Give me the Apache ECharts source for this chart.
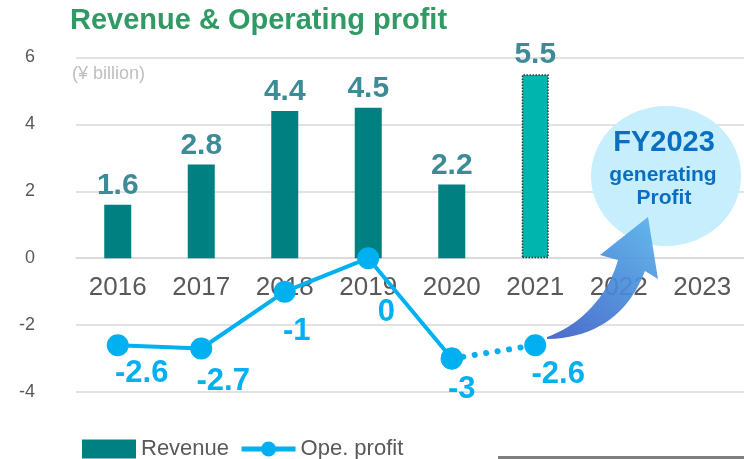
<!DOCTYPE html>
<html>
<head>
<meta charset="utf-8">
<script src="https://cdn.jsdelivr.net/npm/echarts@6/dist/echarts.min.js"></script>
<style>
  html, body { margin: 0; padding: 0; background: #fff; }
  #main { width: 744px; height: 459px; }
</style>
</head>
<body>
<div id="main"></div>
<script>
// data (¥ billion)
var years = ['2016', '2017', '2018', '2019', '2020', '2021', '2022', '2023'];
var revenue = [1.6, 2.8, 4.4, 4.5, 2.2, 5.5];
var opeProfit = [-2.6, -2.7, -1, 0, -3, -2.6];
var yTicks = [-4, -2, 0, 2, 4, 6];
var forecastIndex = 5; // 2021 shown as outlook (dotted)

// hand placed value labels of the profit line, shift from each point in px
var profitLabelShift = [[24, 28], [22, 33], [12, 40], [18, 54], [10, 31], [23, 29]];

var font = '"Liberation Sans", Arial, sans-serif';

var gridTop = 57.5, gridBottom = 67, chartH = 459;
var yMin = yTicks[0], yMax = yTicks[yTicks.length - 1];
// x axis sits on the zero line
var zeroShift = (chartH - gridTop - gridBottom) * (0 - yMin) / (yMax - yMin);

var myChart = echarts.init(document.getElementById('main'));

var barData = revenue.map(function (v, i) {
  if (i === forecastIndex) {
    return {
      value: v,
      itemStyle: { color: '#00b5ad', borderColor: '#333', borderWidth: 1.5, borderType: 'dotted' }
    };
  }
  return v;
});

function profitItem(v, i) {
  return { value: v, label: { offset: profitLabelShift[i] } };
}
// solid part up to the year before forecast, dotted part to the forecast
var solidLine = opeProfit.map(function (v, i) { return i < forecastIndex ? profitItem(v, i) : '-'; });
var dottedLine = opeProfit.map(function (v, i) {
  if (i < forecastIndex - 1) return '-';
  return i === forecastIndex ? profitItem(v, i) : { value: v, label: { show: false } };
});

// curved arrow outline (decoration), sampled from two cubic curves
function cubic(p0, p1, p2, p3, n) {
  var pts = [];
  for (var k = 0; k <= n; k++) {
    var t = k / n, u = 1 - t;
    pts.push([
      u * u * u * p0[0] + 3 * u * u * t * p1[0] + 3 * u * t * t * p2[0] + t * t * t * p3[0],
      u * u * u * p0[1] + 3 * u * u * t * p1[1] + 3 * u * t * t * p2[1] + t * t * t * p3[1]
    ]);
  }
  return pts;
}
var arrowPts = cubic([547, 337], [575, 327], [606, 302], [618, 260], 20)
  .concat([[600, 255], [648, 217], [658, 279]])
  .concat(cubic([645, 271], [630, 310], [600, 338], [547, 339], 20));

var profitLabel = {
  show: true,
  position: 'inside',
  color: '#00b0f0',
  fontSize: 31,
  fontWeight: 'bold',
  fontFamily: font
};

var option = {
  animation: false,
  textStyle: { fontFamily: font },
  title: {
    text: 'Revenue & Operating profit',
    left: 65,
    top: 1,
    textStyle: { color: '#2f9a64', fontSize: 29, fontWeight: 'bold', fontFamily: font }
  },
  legend: {
    data: [{ name: 'Revenue', icon: 'rect' }, 'Ope. profit'],
    left: 77,
    top: 433,
    itemWidth: 54,
    itemHeight: 19,
    itemGap: 10,
    lineStyle: { width: 5 },
    textStyle: { color: '#595959', fontSize: 22, fontFamily: font }
  },
  grid: { left: 76, right: 0, top: gridTop, bottom: gridBottom },
  xAxis: {
    type: 'category',
    data: years,
    offset: -zeroShift,
    axisLine: { show: true, onZero: false, lineStyle: { color: '#d9d9d9', width: 1.5 } },
    axisTick: { show: false },
    axisLabel: { color: '#595959', fontSize: 26, margin: 17, fontFamily: font }
  },
  yAxis: {
    type: 'value',
    min: yMin,
    max: yMax,
    interval: 2,
    axisLabel: { color: '#595959', fontSize: 18, margin: 41, fontFamily: font },
    splitLine: { lineStyle: { color: '#d9d9d9', width: 1.5 } }
  },
  graphic: [
    {
      type: 'text', x: 72, y: 74,
      style: { text: '(¥ billion)', fill: '#bfbfbf', font: '18px ' + font, verticalAlign: 'middle' }
    },
    {
      type: 'ellipse', shape: { cx: 666, cy: 176, rx: 75, ry: 70 },
      style: { fill: '#c6eefc' }, z: 10
    },
    {
      type: 'text', x: 664, y: 143, z: 11,
      style: { text: 'FY2023', fill: '#0b6fc0', font: 'bold 29px ' + font, align: 'center', verticalAlign: 'middle' }
    },
    {
      type: 'text', x: 663, y: 175, z: 11,
      style: { text: 'generating', fill: '#0b6fc0', font: 'bold 21px ' + font, align: 'center', verticalAlign: 'middle' }
    },
    {
      type: 'text', x: 664, y: 198, z: 11,
      style: { text: 'Profit', fill: '#0b6fc0', font: 'bold 21px ' + font, align: 'center', verticalAlign: 'middle' }
    },
    {
      type: 'polygon', z: 12,
      shape: { points: arrowPts },
      style: {
        fill: new echarts.graphic.LinearGradient(0, 1, 1, 0, [
          { offset: 0, color: '#3c5fc6' },
          { offset: 0.6, color: '#4a90dc' },
          { offset: 1, color: '#5cb3ec' }
        ]),
        opacity: 0.92
      }
    },
    {
      type: 'line', shape: { x1: 498, y1: 457.5, x2: 744, y2: 457.5 },
      style: { stroke: '#7f7f7f', lineWidth: 3 }
    }
  ],
  series: [
    {
      name: 'Revenue',
      type: 'bar',
      data: barData,
      barWidth: 27,
      itemStyle: { color: '#008080' },
      label: {
        show: true,
        position: 'top',
        distance: 4,
        color: '#3d8b96',
        fontSize: 30,
        fontWeight: 'bold',
        fontFamily: font
      }
    },
    {
      name: 'Ope. profit',
      type: 'line',
      data: solidLine,
      symbol: 'circle',
      symbolSize: 22,
      itemStyle: { color: '#00b0f0' },
      lineStyle: { color: '#00b0f0', width: 4 },
      z: 5,
      label: profitLabel
    },
    {
      name: 'Ope. profit outlook',
      type: 'line',
      data: dottedLine,
      symbol: 'circle',
      symbolSize: 22,
      itemStyle: { color: '#00b0f0' },
      lineStyle: { color: '#00b0f0', width: 6, type: [0.1, 11.5], cap: 'round' },
      z: 5,
      label: profitLabel
    }
  ]
};

myChart.setOption(option);
</script>
</body>
</html>
